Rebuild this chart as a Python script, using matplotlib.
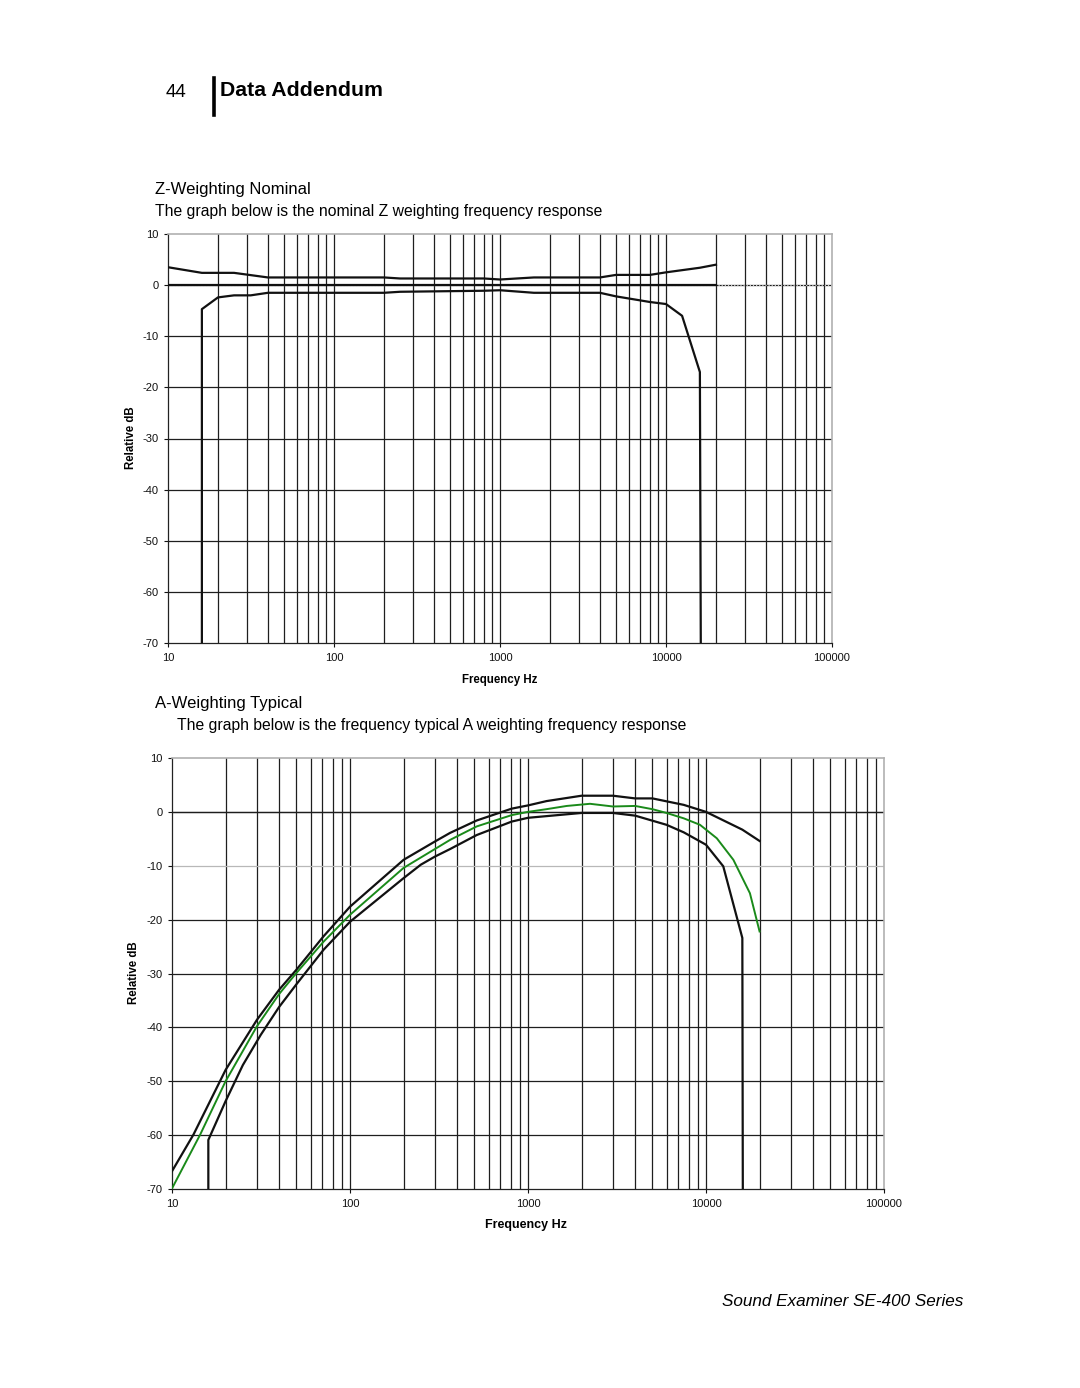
import matplotlib
matplotlib.use("Agg")
import matplotlib.pyplot as plt
from matplotlib.ticker import LogLocator, FixedLocator, NullFormatter

plt.rcParams['font.family'] = ['Liberation Sans', 'DejaVu Sans']

# Z-weighting nominal: tolerance limits (Hz, dB)
z_upper_freq = [10, 16, 25, 40, 200, 250, 800, 1000, 1600, 4000, 5000, 8000, 10000, 16000, 20000]
z_upper_db = [3.5, 2.4, 2.4, 1.5, 1.5, 1.3, 1.3, 1.1, 1.5, 1.5, 2.0, 2.0, 2.5, 3.4, 4.0]
z_lower_freq = [16, 16, 20, 25, 31.5, 40, 200, 250, 800, 1000, 1600, 4000, 5000, 8000, 10000, 12500, 16000, 16200]
z_lower_db = [-70, -4.7, -2.4, -2.0, -2.0, -1.5, -1.5, -1.3, -1.1, -1.0, -1.5, -1.5, -2.2, -3.3, -3.7, -6.0, -17.0, -70]
z_nominal_freq = [10, 20000]
z_nominal_db = [0, 0]

# A-weighting typical: upper / lower limits and measured response
a_upper_freq = [10, 13.2, 20, 30, 40, 50, 71, 100, 200, 300, 365, 515, 810, 1000, 1270, 2000, 3000, 4000, 5000, 7500, 10000, 16000, 20000]
a_upper_db = [-66.7, -59.9, -47.9, -38.6, -33.0, -29.3, -23.1, -17.6, -8.9, -5.5, -3.9, -1.6, 0.6, 1.2, 2.0, 3.0, 3.0, 2.5, 2.5, 1.3, 0.0, -3.3, -5.4]
a_lower_freq = [16, 16, 20, 25, 31.5, 40, 50, 71, 100, 200, 250, 300, 365, 515, 810, 1000, 2000, 3000, 4000, 6000, 7500, 10000, 12500, 16000, 16100]
a_lower_db = [-70, -60.9, -53.7, -47.0, -41.4, -36.2, -32.0, -25.6, -20.4, -12.3, -9.8, -8.3, -6.9, -4.3, -1.8, -1.1, -0.2, -0.2, -0.7, -2.4, -3.8, -6.1, -10.1, -23.4, -70]
a_typ_freq = [10, 14.4, 20, 30, 40, 50, 71, 100, 200, 365, 515, 810, 1000, 1270, 1650, 2230, 3000, 4000, 5000, 6000, 7500, 9250, 11500, 14250, 17650, 20000]
a_typ_db = [-69.9, -59.9, -50.0, -39.8, -33.8, -29.9, -24.1, -19.1, -10.4, -5.2, -2.7, -0.6, 0.0, 0.5, 1.1, 1.5, 1.0, 1.1, 0.5, -0.2, -1.2, -2.4, -4.9, -8.9, -15.1, -22.2]

y_ticks = [10, 0, -10, -20, -30, -40, -50, -60, -70]
x_ticks = [10, 100, 1000, 10000, 100000]
x_tick_labels = ['10', '100', '1000', '10000', '100000']

W, H = 1080, 1388
fig = plt.figure(figsize=(W / 100, H / 100), dpi=100)


def px(x, y):
    return x / W, 1 - y / H


def setup_axes(left, top, right, bottom, light_rows=()):
    l, t = px(left, top)
    r, b = px(right, bottom)
    ax = fig.add_axes([l, b, r - l, t - b])
    ax.set_xscale('log')
    ax.set_xlim(10, 100000)
    ax.set_ylim(-70, 10)
    ax.xaxis.set_major_locator(FixedLocator(x_ticks))
    ax.set_xticklabels(x_tick_labels)
    ax.xaxis.set_minor_locator(LogLocator(base=10, subs=range(2, 10)))
    ax.xaxis.set_minor_formatter(NullFormatter())
    ax.set_yticks(y_ticks)
    ax.set_yticklabels([str(v) for v in y_ticks])
    ax.tick_params(axis='both', which='major', length=3, width=0.8, direction='out',
                   labelsize=8, colors='#111111')
    ax.tick_params(axis='y', pad=4)
    ax.tick_params(axis='x', pad=4)
    ax.tick_params(axis='x', which='minor', length=0)
    for lab in ax.get_xticklabels() + ax.get_yticklabels():
        lab.set_family(['Liberation Sans Narrow', 'Liberation Sans'])
    # grid
    for v in [f * 10 ** e for e in range(1, 5) for f in range(1, 10)][1:]:
        ax.axvline(v, color='#1e1e1e', lw=0.9, zorder=1)
    for v in y_ticks[1:-1]:
        col = '#b8b8b8' if v in light_rows else '#1e1e1e'
        ax.axhline(v, color=col, lw=0.9, zorder=1)
    for s in ['top', 'right']:
        ax.spines[s].set_color('#b0b0b0')
        ax.spines[s].set_linewidth(1.2)
    for s in ['left', 'bottom']:
        ax.spines[s].set_color('#222222')
        ax.spines[s].set_linewidth(0.9)
    return ax


# ---- header ----
fig.text(*px(166, 97), '44', fontsize=13.5, va='baseline', ha='left')
fig.add_artist(plt.Line2D([214 / W, 214 / W], [1 - 78 / H, 1 - 115 / H], color='black', lw=2.6))
fig.text(*px(220, 96), 'Data Addendum', fontsize=15.3, fontweight='bold', va='baseline', ha='left')

# ---- Z weighting ----
fig.text(*px(155, 194), 'Z-Weighting Nominal', fontsize=12, va='baseline', ha='left')
fig.text(*px(155, 216), 'The graph below is the nominal Z weighting frequency response',
         fontsize=11.3, va='baseline', ha='left')

ax1 = setup_axes(168, 234, 832, 643)
ax1.axhline(0, color='#c8c8c8', lw=0.9, ls=(0, (1, 1.5)), zorder=1)
ax1.plot(z_nominal_freq, z_nominal_db, color='#111111', lw=1.6, zorder=3)
ax1.plot(z_upper_freq, z_upper_db, color='#111111', lw=1.6, zorder=3)
ax1.plot(z_lower_freq, z_lower_db, color='#111111', lw=1.6, zorder=3)
fig.text(*px(500, 680), 'Frequency Hz', fontsize=8.3, fontweight='bold', ha='center', va='center')
fig.text(*px(131, 438), 'Relative dB', fontsize=8.3, fontweight='bold', ha='center', va='center',
         rotation=90)

# ---- A weighting ----
fig.text(*px(155, 708), 'A-Weighting Typical', fontsize=12, va='baseline', ha='left')
fig.text(*px(177, 730), 'The graph below is the frequency typical A weighting frequency response',
         fontsize=11.3, va='baseline', ha='left')

ax2 = setup_axes(172, 758, 884, 1189, light_rows=(-10,))
ax2.axhline(0, color='#1e1e1e', lw=0.9, zorder=1)
ax2.plot(a_upper_freq, a_upper_db, color='#111111', lw=1.6, zorder=3)
ax2.plot(a_lower_freq, a_lower_db, color='#111111', lw=1.6, zorder=3)
ax2.plot(a_typ_freq, a_typ_db, color='#1a8a1a', lw=1.4, zorder=4)
fig.text(*px(526, 1225), 'Frequency Hz', fontsize=9, fontweight='bold', ha='center', va='center',
         family=['Liberation Sans Narrow', 'Liberation Sans'])
fig.text(*px(134, 973), 'Relative dB', fontsize=8.3, fontweight='bold', ha='center', va='center',
         rotation=90)

# ---- footer ----
fig.text(*px(963, 1306), 'Sound Examiner SE-400 Series', fontsize=12.3, style='italic',
         ha='right', va='baseline')

fig.savefig('out.png', dpi=100)
print("Saved chart to out.png")
plt.close(fig)
